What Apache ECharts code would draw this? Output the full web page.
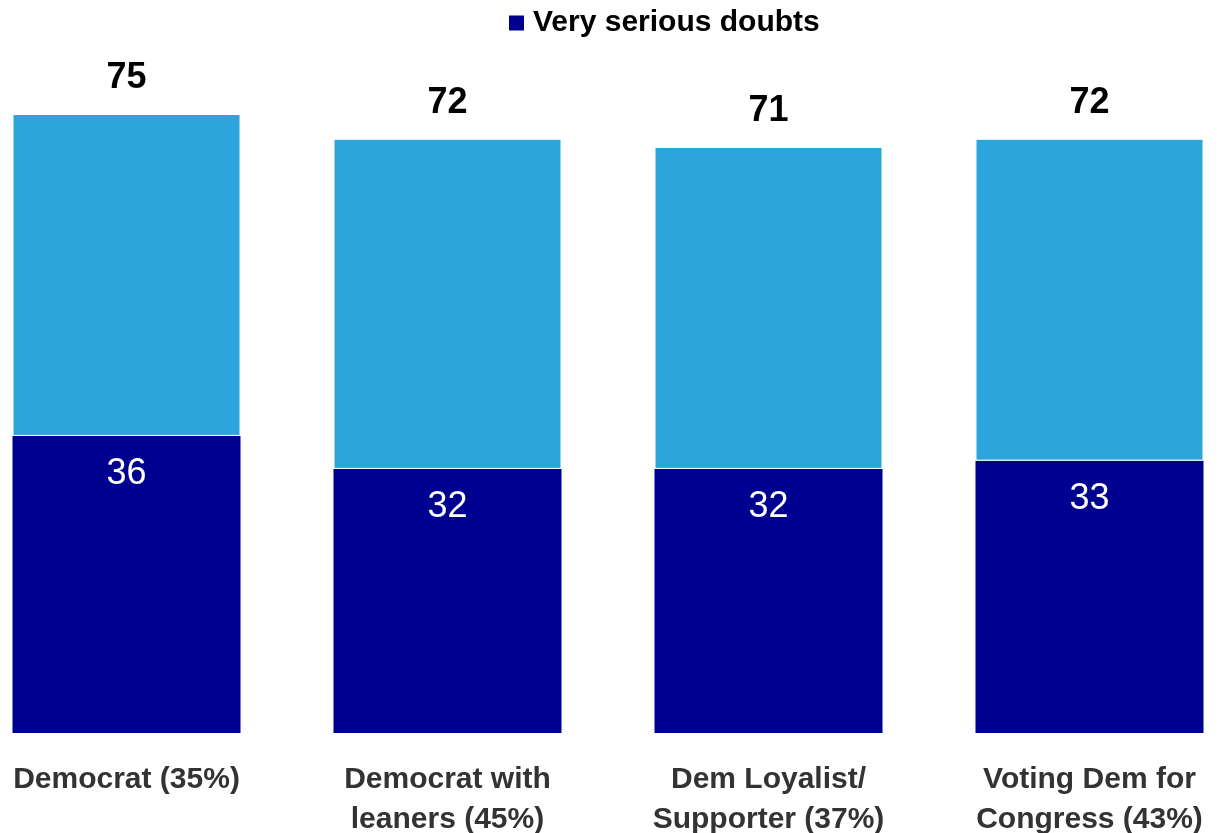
<!DOCTYPE html>
<html>
<head>
<meta charset="utf-8">
<script src="https://cdn.jsdelivr.net/npm/echarts@6/dist/echarts.min.js"></script>
<style>
  html, body { margin: 0; padding: 0; background: #fff; }
  #chart { width: 1219px; height: 833px; }
</style>
</head>
<body>
<div id="chart"></div>
<script>
  // ==== data ====
  const categories = [
    'Democrat (35%)',
    'Democrat with\nleaners (45%)',
    'Dem Loyalist/\nSupporter (37%)',
    'Voting Dem for\nCongress (43%)'
  ]
  const veryDoubts = [36, 32, 32, 33]
  const totalDoubts = [75, 72, 71, 72]
  const restDoubts = totalDoubts.map((t, i) => t - veryDoubts[i])

  const chart = echarts.init(document.getElementById('chart'))

  chart.setOption({
    animation: false,
    textStyle: { fontFamily: 'Liberation Sans, Arial, sans-serif' },
    legend: {
      data: ['Very serious doubts'],
      left: 504,
      top: 3,
      icon: 'rect',
      itemWidth: 15,
      itemHeight: 15,
      itemGap: 8,
      textStyle: { fontSize: 30, fontWeight: 'bold', color: '#000', padding: [0, 0, 0, 4] }
    },
    grid: { left: -34, right: -31, top: 114, bottom: 100, outerBoundsMode: 'none' },
    xAxis: {
      type: 'category',
      data: categories,
      axisLine: { show: false },
      axisTick: { show: false },
      axisLabel: {
        margin: 27,
        fontSize: 30,
        fontWeight: 'bold',
        color: '#333',
        lineHeight: 40,
        interval: 0
      }
    },
    yAxis: {
      type: 'value',
      min: 0,
      max: 75,
      show: false,
      splitLine: { show: false }
    },
    series: [
      {
        name: 'Very serious doubts',
        type: 'bar',
        stack: 'doubts',
        data: veryDoubts,
        barWidth: 228,
        itemStyle: { color: '#000090' },
        label: {
          show: true,
          position: 'insideTop',
          distance: 20,
          color: '#fff',
          fontSize: 36
        }
      },
      {
        name: 'Other',
        type: 'bar',
        stack: 'doubts',
        data: restDoubts,
        barWidth: 228,
        itemStyle: { color: '#2ca5dc', borderColor: '#fff', borderWidth: 1 },
        label: {
          show: true,
          position: 'top',
          distance: 18,
          color: '#000',
          fontSize: 36,
          fontWeight: 'bold',
          formatter: (p) => totalDoubts[p.dataIndex]
        }
      }
    ]
  })
</script>
</body>
</html>
